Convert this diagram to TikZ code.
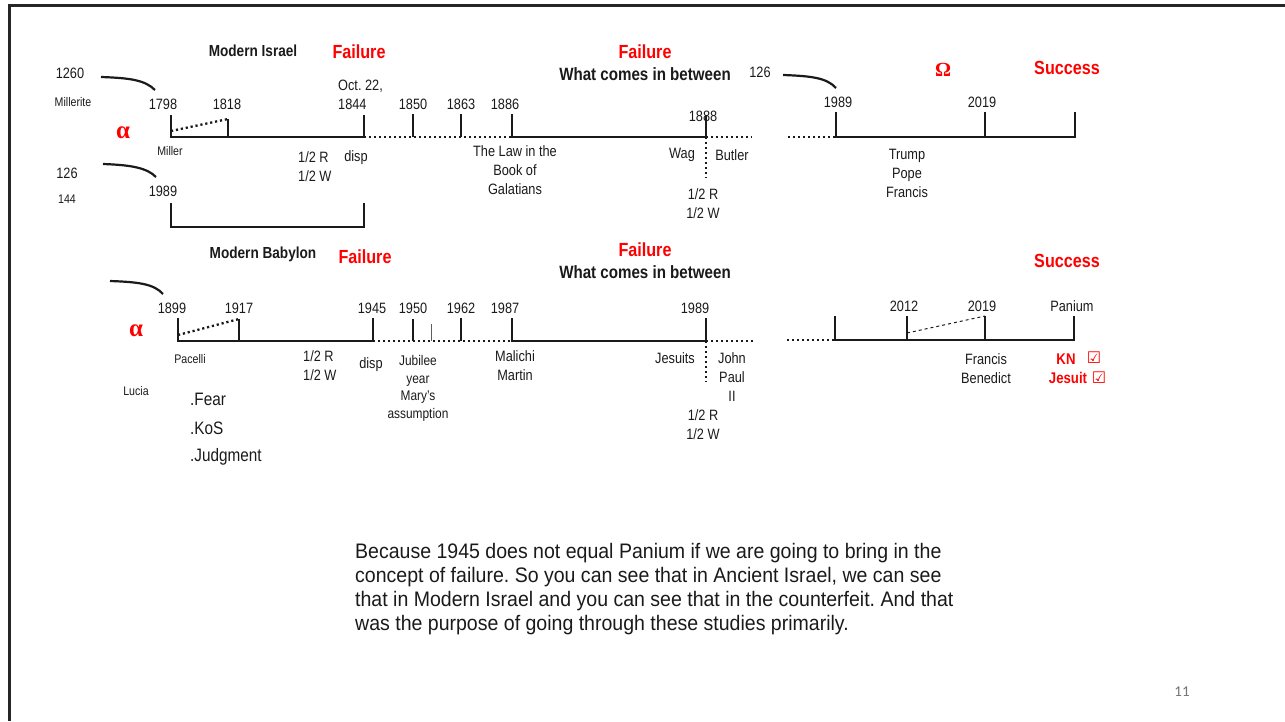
\documentclass[tikz,border=0pt]{standalone}
\usepackage{fontspec}
\setmainfont[FakeStretch=0.85]{Liberation Sans}
\newfontfamily\parafont[FakeStretch=0.93]{Liberation Sans}
\newfontfamily\greekfont{Liberation Serif}
\newfontfamily\symfont{DejaVu Sans}
\newfontfamily\pagefont{Carlito}
\definecolor{slidered}{RGB}{255,0,0}
\definecolor{ink}{RGB}{26,26,26}
\frenchspacing
\begin{document}
\begin{tikzpicture}[x=1pt, y=-1pt, line join=miter,
	frame/.style={line width=3pt, black!85},
	axis/.style={line width=2.5pt, ink},
	dots/.style={line width=2.3pt, ink, dash pattern=on 2.2pt off 2.8pt},
	hook/.style={line width=2.2pt, ink},
	yr/.style={inner sep=0pt, text=ink, font=\fontsize{15}{19}\selectfont, align=center},
	sm/.style={inner sep=0pt, text=ink, font=\fontsize{12.5}{15}\selectfont},
	ttl/.style={inner sep=0pt, text=ink, font=\fontsize{16}{19}\selectfont\bfseries},
	fail/.style={inner sep=0pt, text=slidered, font=\fontsize{19}{22}\selectfont\bfseries},
	greek/.style={inner sep=0pt, text=slidered, font=\fontsize{25}{25}\greekfont\bfseries},
	tick/.style={inner sep=0pt, text=slidered, font=\fontsize{16}{16}\symfont},
	point/.style={inner sep=0pt, text=ink, font=\fontsize{18}{20}\selectfont, anchor=west}]
	\useasboundingbox (0,0) rectangle (1285,721);
	%Slide frame
	\draw[frame] (9,721) -- (9,5) -- (1285,5);
	
	%Modern Israel: ticks
	\foreach \n/\x/\t in {i1798/171/115, i1818/228/119, i1844/364/115, i1850/413/114, i1863/461/114, i1886/512/114, i1888/706/116}{
		\coordinate (\n) at (\x,137);
		\coordinate (\n-t) at (\x,\t);
	}
	\coordinate (i1798-m) at (171,131);
	\coordinate (i-end) at (752,137);
	\coordinate (i-drop) at (706,178);
	\draw[axis] (i1798-t) -- (i1798) -- (i1844) -- (i1844-t);
	\draw[axis] (i1818-t) -- (i1818);
	\draw[dots] (i1798-m) -- (i1818-t);
	\draw[dots] (i1844) -- (i1886);
	\foreach \n in {i1850, i1863} \draw[axis] (\n-t) -- (\n);
	\draw[axis] (i1886-t) -- (i1886) -- (i1888) -- (i1888-t);
	\draw[dots] (i1888) -- (i-end);
	\draw[dots] (i1888) -- (i-drop);
	%Modern Israel: right part
	\foreach \n/\x in {r1989/836, r2019/985, r-end/1075}{
		\coordinate (\n) at (\x,137);
		\coordinate (\n-t) at (\x,112);
	}
	\coordinate (r-start) at (788,137);
	\draw[dots] (r-start) -- (r1989);
	\draw[axis] (r1989-t) -- (r1989) -- (r-end) -- (r-end-t);
	\draw[axis] (r2019-t) -- (r2019);
	%Bracket under 1989
	\coordinate (k-a) at (171,203); \coordinate (k-b) at (171,227);
	\coordinate (k-c) at (364,227); \coordinate (k-d) at (364,203);
	\draw[axis] (k-a) -- (k-b) -- (k-c) -- (k-d);
	
	%Modern Israel: texts
	\node[ttl] (israel) at (253,51) {Modern Israel};
	\node[fail] (failA) at (359,52) {Failure};
	\node[fail] (failB) at (645,52) {Failure};
	\node[ttl, font=\fontsize{17.8}{19}\selectfont\bfseries] (betweenA) at (645,74) {What comes in between};
	\node[greek, font=\fontsize{20}{20}\greekfont\bfseries] (omega) at (943,70) {Ω};
	\node[fail] (succA) at (1067,68) {Success};
	\node[yr] (n1260) at (70,73) {1260};
	\node[sm] (millerite) at (73,102) {Millerite};
	\node[greek] (alphaA) at (123,133) {α};
	\node[sm] (miller) at (170,151) {Miller};
	\node[yr] (n126a) at (67,173) {126};
	\node[sm] (n144) at (67,199) {144};
	\node[yr] (n1989a) at (163,191) {1989};
	\node[yr] (n126b) at (760,72) {126};
	\foreach \n/\x/\y/\s in {y1798/163/104/1798, y1818/227/104/1818, y1850/413/104/1850, y1863/461/104/1863, y1886/505/104/1886, y1888/703/116/1888, y1989/838/102/1989, y2019/982/102/2019}
	\node[yr] (\n) at (\x,\y) {\s};
	\node[yr, align=left, anchor=north west] (oct) at (338,80) {Oct. 22,\\1844};
	\node[yr, align=left, anchor=north west] (halfA) at (298,151) {1/2 R\\1/2 W};
	\node[yr] (dispA) at (356,158) {disp};
	\node[yr, anchor=north] (law) at (515,145) {The Law in the\\Book of\\Galatians};
	\node[yr] (wag) at (682,155) {Wag};
	\node[yr] (butler) at (732,155) {Butler};
	\node[yr, anchor=north] (halfB) at (703,188) {1/2 R\\1/2 W};
	\node[yr, anchor=north] (trump) at (907,149) {Trump\\Pope\\Francis};
	%Hooks
	\draw[hook] (101,77) .. controls (130,78) and (145,80) .. (155,90);
	\draw[hook] (103,164) .. controls (132,165) and (147,168) .. (156,177);
	\draw[hook] (783,75) .. controls (812,76) and (827,78) .. (836,88);
	\draw[hook] (110,281) .. controls (139,282) and (154,284) .. (163,294);
	
	%Modern Babylon: ticks
	\foreach \n/\x/\t in {b1899/178/318, b1917/239/319, b1945/373/318, b1950/413/319, b1962/461/318, b1987/512/318, b1989/706/318}{
		\coordinate (\n) at (\x,341);
		\coordinate (\n-t) at (\x,\t);
	}
	\coordinate (b1899-m) at (178,335);
	\coordinate (bmark) at (431,341); \coordinate (bmark-t) at (431,324);
	\coordinate (b-end) at (753,341);
	\coordinate (b-drop) at (706,382);
	\draw[axis] (b1899-t) -- (b1899) -- (b1945) -- (b1945-t);
	\draw[axis] (b1917-t) -- (b1917);
	\draw[dots] (b1899-m) -- (b1917-t);
	\draw[dots] (b1945) -- (b1987);
	\foreach \n in {b1950, b1962} \draw[axis] (\n-t) -- (\n);
	\draw[line width=1pt, ink!70] (bmark-t) -- (bmark);
	\draw[axis] (b1987-t) -- (b1987) -- (b1989) -- (b1989-t);
	\draw[dots] (b1989) -- (b-end);
	\draw[dots] (b1989) -- (b-drop);
	%Modern Babylon: right part
	\foreach \n/\x in {s1989/835, s2012/907, s2019/985, s-end/1074}{
		\coordinate (\n) at (\x,340);
		\coordinate (\n-t) at (\x,316);
	}
	\coordinate (s-start) at (787,340);
	\coordinate (s2012-m) at (907,333);
	\draw[dots] (s-start) -- (s1989);
	\draw[axis] (s1989-t) -- (s1989) -- (s-end) -- (s-end-t);
	\foreach \n in {s2012, s2019} \draw[axis] (\n-t) -- (\n);
	\draw[line width=1pt, ink, dashed] (s2012-m) -- (s2019-t);
	
	%Modern Babylon: texts
	\node[ttl] (babylon) at (263,254) {Modern Babylon};
	\node[fail] (failC) at (365,257) {Failure};
	\node[fail] (failD) at (645,250) {Failure};
	\node[ttl, font=\fontsize{17.8}{19}\selectfont\bfseries] (betweenB) at (645,272) {What comes in between};
	\node[fail] (succB) at (1067,261) {Success};
	\node[greek] (alphaB) at (136,331) {α};
	\foreach \n/\x/\y/\s in {z1899/172/308/1899, z1917/239/308/1917, z1945/372/308/1945, z1950/413/308/1950, z1962/461/308/1962, z1987/505/308/1987, z1989/695/308/1989, z2012/904/306/2012, z2019/982/306/2019, zpanium/1072/306/Panium}
	\node[yr] (\n) at (\x,\y) {\s};
	\node[sm] (pacelli) at (190,359) {Pacelli};
	\node[sm] (lucia) at (136,391) {Lucia};
	\node[yr, align=left, anchor=north west] (halfC) at (303,350) {1/2 R\\1/2 W};
	\node[yr] (dispB) at (371,365) {disp};
	\node[yr, anchor=north, font=\fontsize{14}{17.7}\selectfont] (jubilee) at (418,355) {Jubilee\\year\\Mary's\\assumption};
	\node[yr, anchor=north] (malichi) at (515,350) {Malichi\\Martin};
	\node[yr] (jesuits) at (675,358) {Jesuits};
	\node[yr, anchor=north] (john) at (732,352) {John\\Paul\\II};
	\node[yr, anchor=north] (halfD) at (703,409) {1/2 R\\1/2 W};
	\node[yr, anchor=north] (francis) at (986,353) {Francis\\Benedict};
	\node[inner sep=0pt, text=slidered, font=\fontsize{15.5}{19}\selectfont\bfseries] (kn) at (1066,359) {KN};
	\node[inner sep=0pt, text=slidered, font=\fontsize{15.5}{19}\selectfont\bfseries] (jesuit) at (1068,378) {Jesuit};
	\node[tick] (boxA) at (1094,358) {☑};
	\node[tick] (boxB) at (1099,378) {☑};
	\foreach \n/\y/\s in {fear/399/Fear, kos/428/KoS, judg/457/Judgment}
	\node[point] (\n) at (190,\y) {.\s};
	
	%Commentary
	\node[inner sep=0pt, anchor=north west, align=left, text=ink, font=\fontsize{21}{24}\parafont] (para) at (355,543)
	{Because 1945 does not equal Panium if we are going to bring in the\\
		concept of failure. So you can see that in Ancient Israel, we can see\\
		that in Modern Israel and you can see that in the counterfeit. And that\\
		was the purpose of going through these studies primarily.};
	\node[inner sep=0pt, text=black!55, font=\fontsize{15}{15}\pagefont] (page) at (1182,692) {11};
\end{tikzpicture}
\end{document}
